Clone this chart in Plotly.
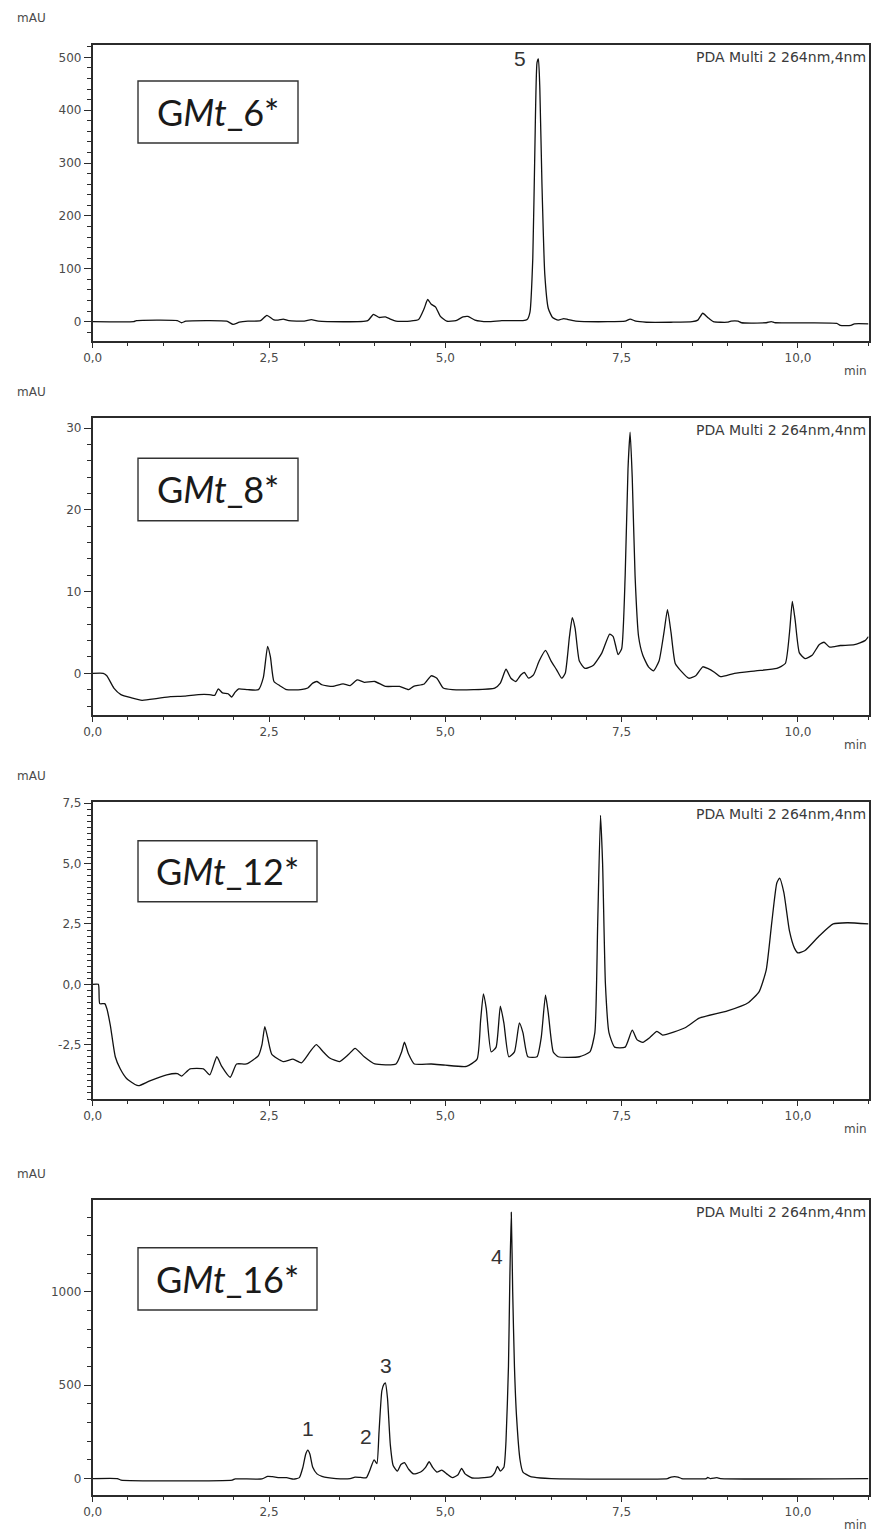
import plotly.graph_objects as go

W, H = 873, 1532

# ---- retention time (min) / absorbance (mAU) for each sample ----
t_gmt6 = [0, 0.58, 0.62, 1.2, 1.26, 1.32, 1.9, 1.99, 2.08, 2.2, 2.38, 2.47, 2.56, 2.63, 2.7, 2.78,
          3.0, 3.1, 3.2, 3.9, 3.98, 4.06, 4.15, 4.22, 4.3, 4.5, 4.62, 4.7, 4.75, 4.8, 4.86, 4.93,
          5.02, 5.15, 5.25, 5.32, 5.42, 5.6, 5.8, 6.0, 6.1, 6.16, 6.2, 6.24, 6.27, 6.3, 6.32, 6.34,
          6.37, 6.41, 6.46, 6.52, 6.6, 6.68, 6.74, 6.85, 7.3, 7.55, 7.62, 7.7, 7.85, 8.2, 8.5, 8.58,
          8.65, 8.72, 8.8, 9.0, 9.05, 9.15, 9.2, 9.55, 9.62, 9.68, 10.55, 10.6, 10.75, 10.8, 11.0]
a_gmt6 = [0, 0, 2, 2, -2, 1, 1, -5, -1, 1, 2, 12, 4, 3, 5, 2,
          1, 4, 1, 2, 14, 8, 9, 5, 1, 1, 4, 25, 42, 33, 28, 10,
          1, 2, 9, 10, 3, 0, 2, 2, 2, 4, 18, 120, 330, 490, 497, 440,
          260, 90, 25, 8, 3, 6, 4, 1, 0, 1, 5, 1, -1, -1, 0, 3,
          16, 8, 0, -1, 1, 1, -2, -2, 0, -2, -3, -7, -7, -4, -4]

t_gmt8 = [0, 0.15, 0.2, 0.3, 0.4, 0.55, 0.7, 0.9, 1.1, 1.3, 1.5, 1.65, 1.73, 1.78, 1.84, 1.92,
          1.97, 2.02, 2.07, 2.2, 2.35, 2.42, 2.48, 2.52, 2.57, 2.65, 2.75, 2.95, 3.05, 3.12, 3.18,
          3.25, 3.4, 3.55, 3.65, 3.75, 3.85, 4.0, 4.15, 4.35, 4.48, 4.55, 4.7, 4.8, 4.88, 4.97,
          5.1, 5.4, 5.7, 5.78, 5.86, 5.93, 6.0, 6.07, 6.12, 6.18, 6.25, 6.33, 6.42, 6.5, 6.58,
          6.65, 6.7, 6.76, 6.8, 6.84, 6.9, 6.98, 7.1, 7.22, 7.33, 7.38, 7.45, 7.5, 7.55, 7.59,
          7.62, 7.65, 7.69, 7.74, 7.8, 7.88, 7.95, 8.03, 8.1, 8.15, 8.2, 8.26, 8.35, 8.45, 8.55,
          8.65, 8.72, 8.82, 8.9, 9.1, 9.4, 9.7, 9.82, 9.88, 9.92, 9.96, 10.02, 10.1, 10.2, 10.3,
          10.37, 10.45, 10.6, 10.8, 10.95, 11.0]
a_gmt8 = [0, 0, -0.3, -1.8, -2.6, -3.0, -3.3, -3.1, -2.85, -2.8, -2.6, -2.6, -2.7, -1.9, -2.4, -2.5,
          -2.9, -2.3, -1.9, -2.0, -2.0, -0.5, 3.3, 2.0, -1.0, -1.5, -2.0, -2.0, -1.8, -1.2, -1.0,
          -1.4, -1.6, -1.3, -1.5, -0.8, -1.1, -1.0, -1.6, -1.6, -2.0, -1.6, -1.3, -0.3, -0.6, -1.8,
          -2.0, -2.0, -1.8, -1.2, 0.5, -0.6, -1.0, -0.2, 0.1, -0.6, -0.2, 1.5, 2.8, 1.5, 0.4,
          -0.6, 0.0, 4.5, 6.8, 5.5, 1.5, 0.6, 1.0, 2.5, 4.8, 4.5, 2.3, 3.0, 12, 25,
          29.5, 24, 12, 4.5, 2.2, 0.8, 0.3, 1.5, 5, 7.8, 5, 1.2, 0.2, -0.6, -0.3,
          0.8, 0.6, 0.1, -0.4, 0.0, 0.3, 0.6, 1.2, 5, 8.8, 6.5, 2.5, 1.8, 2.2, 3.5,
          3.8, 3.2, 3.4, 3.5, 4.0, 4.5]

t_gmt12 = [0, 0.08, 0.1, 0.17, 0.2, 0.25, 0.32, 0.39, 0.48, 0.6, 0.65, 0.81, 1.05, 1.2, 1.26, 1.38,
           1.57, 1.66, 1.76, 1.83, 1.95, 2.04, 2.18, 2.35, 2.4, 2.44, 2.48, 2.54, 2.7, 2.84, 2.96,
           3.08, 3.17, 3.27, 3.36, 3.5, 3.63, 3.72, 3.85, 4.0, 4.3, 4.38, 4.42, 4.48, 4.56, 4.8,
           5.0, 5.3, 5.45, 5.5, 5.54, 5.58, 5.65, 5.72, 5.78, 5.83, 5.9, 5.98, 6.05, 6.1, 6.17,
           6.3, 6.36, 6.42, 6.46, 6.53, 6.6, 6.9, 7.05, 7.12, 7.16, 7.2, 7.23, 7.27, 7.32, 7.4,
           7.55, 7.65, 7.72, 7.8, 7.9, 8.0, 8.08, 8.4, 8.6, 9.0, 9.3, 9.45, 9.55, 9.63, 9.7,
           9.74, 9.8, 9.88, 9.95, 10.0, 10.1, 10.3, 10.5, 10.7, 11.0]
a_gmt12 = [0, 0, -0.8, -0.8, -1.0, -1.7, -3.0, -3.5, -3.9, -4.15, -4.2, -4.0, -3.75, -3.7, -3.8, -3.5,
           -3.5, -3.75, -3.0, -3.4, -3.85, -3.3, -3.3, -2.95, -2.5, -1.75, -2.2, -2.9, -3.2, -3.1, -3.25,
           -2.8, -2.5, -2.8, -3.05, -3.2, -2.9, -2.65, -3.0, -3.3, -3.3, -2.8, -2.4, -2.9, -3.3, -3.3,
           -3.35, -3.4, -3.1, -1.5, -0.4, -1.0, -2.8, -2.6, -0.9, -1.6, -3.0, -2.8, -1.6, -2.0, -3.0,
           -3.0, -2.2, -0.45, -1.2, -2.8, -3.0, -3.0, -2.8, -2.0, 2.5, 7.0, 5.0, 0.0, -2.0, -2.6,
           -2.6, -1.9, -2.3, -2.4, -2.2, -1.95, -2.1, -1.8, -1.4, -1.1, -0.75, -0.3, 0.6, 2.6, 4.2,
           4.4, 3.8, 2.2, 1.5, 1.3, 1.4, 2.0, 2.5, 2.55, 2.5]

t_gmt16 = [0, 0.35, 0.4, 1.98, 2.02, 2.4, 2.48, 2.55, 2.65, 2.75, 2.85, 2.93, 2.98, 3.02, 3.05,
           3.08, 3.12, 3.18, 3.25, 3.45, 3.65, 3.72, 3.8, 3.88, 3.93, 3.99, 4.03, 4.06, 4.1, 4.13,
           4.15, 4.18, 4.22, 4.26, 4.32, 4.37, 4.42, 4.48, 4.55, 4.65, 4.72, 4.77, 4.82, 4.88, 4.95,
           5.02, 5.1, 5.18, 5.23, 5.28, 5.38, 5.55, 5.65, 5.7, 5.74, 5.78, 5.83, 5.86, 5.895, 5.915,
           5.935, 5.955, 5.98, 6.01, 6.06, 6.1, 6.2, 6.35, 6.5, 8.15, 8.2, 8.3, 8.35, 8.7, 8.72,
           8.76, 8.85, 8.9, 11.0]
a_gmt16 = [0, 0, -8, -8, -2, -2, 12, 10, 5, 5, -3, 5, 60, 130, 152,
           130, 60, 25, 12, 0, 0, 8, 6, 5, 45, 100, 80, 250, 470, 505,
           512, 430, 180, 70, 40, 75, 85, 50, 25, 35, 60, 90, 60, 35, 45,
           25, 5, 20, 55, 25, 3, 5, 10, 30, 65, 40, 60, 200, 600, 1080,
           1425, 1000, 600, 330, 98, 35, 12, 3, 0, 0, 8, 8, 0, 0, 6,
           0, 5, 0, 0]

# ---- axis ticks ----
x_tickvals = [0, 2.5, 5, 7.5, 10]
x_ticktext = ["0,0", "2,5", "5,0", "7,5", "10,0"]

y1_tickvals = [0, 100, 200, 300, 400, 500]
y1_ticktext = ["0", "100", "200", "300", "400", "500"]
y2_tickvals = [0, 10, 20, 30]
y2_ticktext = ["0", "10", "20", "30"]
y3_tickvals = [-2.5, 0, 2.5, 5, 7.5]
y3_ticktext = ["-2,5", "0,0", "2,5", "5,0", "7,5"]
y4_tickvals = [0, 500, 1000]
y4_ticktext = ["0", "500", "1000"]

sample_names = ["G<i>Mt</i>_6*", "G<i>Mt</i>_8*", "G<i>Mt</i>_12*", "G<i>Mt</i>_16*"]
detector_label = "PDA Multi 2 264nm,4nm"

# peak numbers: (panel, time, mAU, label)
peak_labels = [(1, 6.06, 497, "5"),
               (4, 3.05, 270, "1"),
               (4, 3.87, 223, "2"),
               (4, 4.16, 607, "3"),
               (4, 5.73, 1188, "4")]

# ---- layout geometry (pixels) ----
PLOT_LEFT, PLOT_RIGHT = 92.7, 868.5
panels = [  # top, bottom, y-range, minor dy, box right edge, box top, box bottom
    dict(top=45, bottom=341, yr=[-36.5, 523.3], minor=20, bx1=298, by0=81, by1=143),
    dict(top=418.3, bottom=715, yr=[-5.1, 31.2], minor=2, bx1=298, by0=458.3, by1=520.7),
    dict(top=802.3, bottom=1099, yr=[-4.75, 7.54], minor=0.25, bx1=317, by0=840.7, by1=901.7),
    dict(top=1200, bottom=1495, yr=[-88, 1491], minor=100, bx1=317, by0=1247.7, by1=1310),
]
series = [(t_gmt6, a_gmt6), (t_gmt8, a_gmt8), (t_gmt12, a_gmt12), (t_gmt16, a_gmt16)]
y_ticks = [(y1_tickvals, y1_ticktext), (y2_tickvals, y2_ticktext),
           (y3_tickvals, y3_ticktext), (y4_tickvals, y4_ticktext)]


def px(x):
    return x / W


def py(y):
    return 1 - y / H


AXIS_COLOR = "#2b2b2b"
TICK_FONT = dict(family="DejaVu Sans", size=12, color="#4a4a4a")

fig = go.Figure()
layout = dict(
    width=W, height=H,
    margin=dict(l=0, r=0, t=0, b=0, autoexpand=False),
    paper_bgcolor="white", plot_bgcolor="white",
    showlegend=False,
    annotations=[], shapes=[],
)

for i, (p, (t, a), (yv, yt)) in enumerate(zip(panels, series, y_ticks), start=1):
    xa = "x" if i == 1 else f"x{i}"
    ya = "y" if i == 1 else f"y{i}"
    fig.add_trace(go.Scatter(x=t, y=a, mode="lines", xaxis=xa, yaxis=ya,
                             line=dict(color="#111111", width=1.3, shape="spline", smoothing=0.5),
                             hoverinfo="skip"))
    layout[f"xaxis{'' if i == 1 else i}"] = dict(
        domain=[px(PLOT_LEFT), px(PLOT_RIGHT)], range=[0, 11], anchor=ya, automargin=False,
        showline=True, linecolor=AXIS_COLOR, linewidth=1.6, mirror=True,
        showgrid=False, zeroline=False,
        ticks="outside", ticklen=5, tickwidth=1.2, tickcolor=AXIS_COLOR,
        tickmode="array", tickvals=x_tickvals, ticktext=x_ticktext, tickfont=TICK_FONT,
        minor=dict(tickmode="linear", tick0=0, dtick=0.5, ticks="outside", ticklen=3,
                   tickwidth=1.1, tickcolor=AXIS_COLOR, showgrid=False),
    )
    layout[f"yaxis{'' if i == 1 else i}"] = dict(
        domain=[py(p["bottom"]), py(p["top"])], range=p["yr"], anchor=xa, automargin=False,
        showline=True, linecolor=AXIS_COLOR, linewidth=1.6, mirror=True,
        showgrid=False, zeroline=False,
        ticks="outside", ticklen=7, tickwidth=1.2, tickcolor=AXIS_COLOR,
        tickmode="array", tickvals=yv, ticktext=yt, tickfont=TICK_FONT,
        minor=dict(tickmode="linear", tick0=0, dtick=p["minor"], ticks="outside", ticklen=4,
                   tickwidth=1.1, tickcolor=AXIS_COLOR, showgrid=False),
    )

    # axis unit labels
    layout["annotations"].append(dict(
        text="mAU", xref="paper", yref="paper", x=px(15), y=py(p["top"] - 26.5),
        xanchor="left", yanchor="middle", showarrow=False,
        font=dict(family="DejaVu Sans", size=12, color="#4a4a4a")))
    layout["annotations"].append(dict(
        text="min", xref="paper", yref="paper", x=px(869), y=py(p["bottom"] + 30),
        xanchor="right", yanchor="middle", showarrow=False,
        font=dict(family="DejaVu Sans", size=12, color="#4a4a4a")))
    # detector channel
    layout["annotations"].append(dict(
        text=detector_label, xref="paper", yref="paper", x=px(868), y=py(p["top"] + 12),
        xanchor="right", yanchor="middle", showarrow=False,
        font=dict(family="DejaVu Sans", size=14, color="#3a3a3a")))
    # sample name box
    layout["shapes"].append(dict(
        type="rect", xref="paper", yref="paper",
        x0=px(138), x1=px(p["bx1"]), y0=py(p["by1"]), y1=py(p["by0"]),
        line=dict(color="#333333", width=1.4), fillcolor="rgba(0,0,0,0)"))
    layout["annotations"].append(dict(
        text=sample_names[i - 1], xref="paper", yref="paper",
        x=px((138 + p["bx1"]) / 2), y=py((p["by0"] + p["by1"]) / 2),
        xanchor="center", yanchor="middle", showarrow=False,
        font=dict(family="Lato", size=36, color="#1a1a1a")))

for panel, t, v, lab in peak_labels:
    layout["annotations"].append(dict(
        text=lab, xref="x" if panel == 1 else f"x{panel}", yref="y" if panel == 1 else f"y{panel}",
        x=t, y=v, xanchor="center", yanchor="middle", showarrow=False,
        font=dict(family="Liberation Sans", size=21, color="#333333")))

fig.update_layout(**layout)
fig.write_html("out.html")
